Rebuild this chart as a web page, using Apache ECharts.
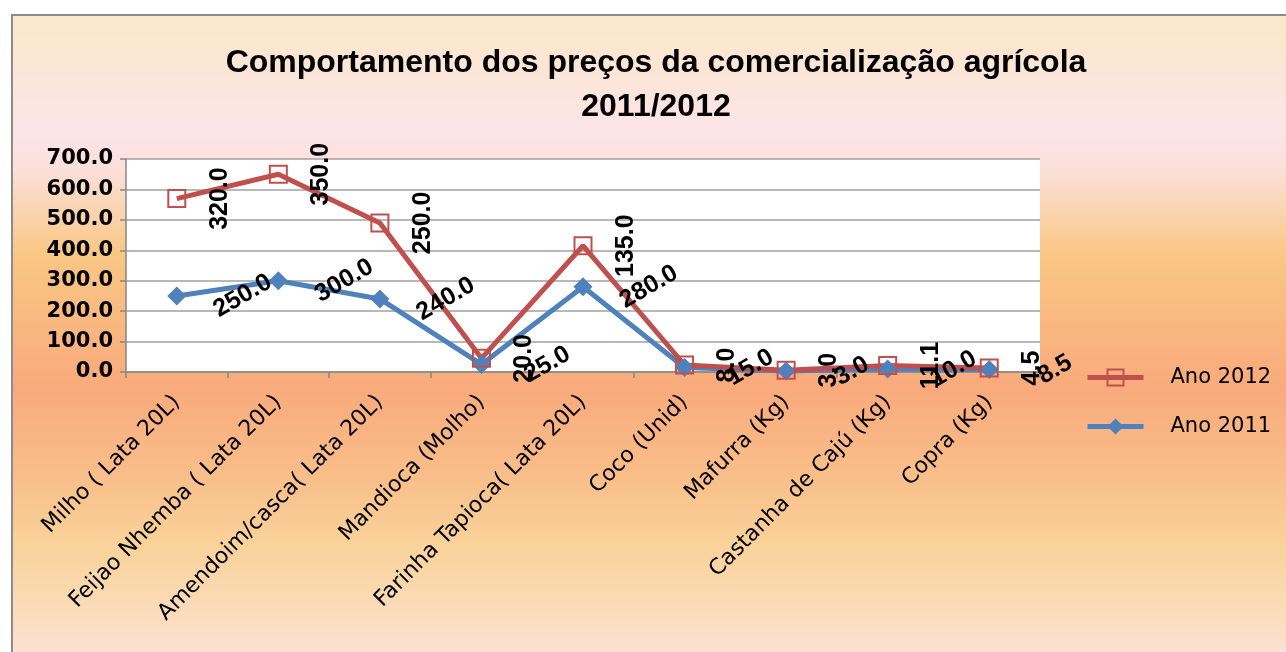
<!DOCTYPE html>
<html>
<head>
<meta charset="utf-8">
<script src="https://cdn.jsdelivr.net/npm/echarts@6/dist/echarts.min.js"></script>
<style>
html,body{margin:0;padding:0;background:#fff;}
#chart{width:1286px;height:652px;}
</style>
</head>
<body>
<div id="chart"></div>
<script>
var categories = ['Milho ( Lata 20L)', 'Feijao Nhemba ( Lata 20L)', 'Amendoim/casca( Lata 20L)', 'Mandioca (Molho)', 'Farinha Tapioca( Lata 20L)', 'Coco (Unid)', 'Mafurra (Kg)', 'Castanha de Cajú (Kg)', 'Copra (Kg)'];
var ano2011 = [250, 300, 240, 25, 280, 15, 3, 10, 8.5];
var ano2012 = [320, 350, 250, 20, 135, 8, 3, 11.1, 4.5];
var yTicks = [0, 100, 200, 300, 400, 500, 600, 700];

var RED = '#c0504d', BLUE = '#4f81bd';
var chart = echarts.init(document.getElementById('chart'), null, {renderer: 'canvas'});
var fmt = function (p) { return Number(p.value).toFixed(1); };
var option = {
  animation: false,
  graphic: [{
    type: 'rect', z: -10, silent: true,
    shape: {x: 12, y: 15, width: 1290, height: 650},
    style: {
      fill: {type: 'linear', x: 0, y: 0, x2: 0, y2: 1, colorStops: [
        {offset: 0, color: '#fbe7c8'},
        {offset: 0.18, color: '#fde4e8'},
        {offset: 0.235, color: '#fce0dc'},
        {offset: 0.37, color: '#f9c784'},
        {offset: 0.573, color: '#f9aa7c'},
        {offset: 0.714, color: '#f9bf8b'},
        {offset: 0.81, color: '#f9d299'},
        {offset: 0.92, color: '#fbdcbb'},
        {offset: 1, color: '#fde1dc'}
      ]},
      stroke: '#8c8c8c', lineWidth: 2
    }
  }],
  title: {
    text: 'Comportamento dos preços da comercialização agrícola\n2011/2012',
    left: 656, top: 41, textAlign: 'center', padding: 0,
    textStyle: {fontFamily: 'Liberation Sans', fontWeight: 'bold', fontSize: 32, lineHeight: 44, color: '#000'}
  },
  legend: {
    orient: 'vertical', left: 1080, top: 362,
    itemWidth: 56, itemHeight: 20, itemGap: 28,
    data: ['Ano 2012', 'Ano 2011'],
    lineStyle: {width: 5},
    textStyle: {fontFamily: 'DejaVu Sans', fontSize: 21, color: '#000', padding: [0, 0, 0, 22]}
  },
  grid: {left: 126, right: 246, top: 159, bottom: 280, show: true, backgroundColor: '#fff', borderWidth: 0},
  xAxis: {
    type: 'category', data: categories, boundaryGap: true,
    axisLine: {lineStyle: {color: '#868686', width: 1.5}},
    axisTick: {show: true, length: 6, lineStyle: {color: '#868686', width: 1.5}},
    axisLabel: {rotate: 45, interval: 0, margin: 27, fontFamily: 'DejaVu Sans', fontSize: 22, color: '#000'}
  },
  yAxis: {
    type: 'value', min: yTicks[0], max: yTicks[yTicks.length - 1], interval: 100,
    axisLine: {show: true, lineStyle: {color: '#868686', width: 1.5}},
    axisTick: {show: true, length: 6, lineStyle: {color: '#868686', width: 1.5}},
    splitLine: {lineStyle: {color: '#a0a0a0', width: 1.5}},
    axisLabel: {margin: 13, fontFamily: 'DejaVu Sans', fontWeight: 'bold', fontSize: 21, color: '#000',
      formatter: function (v) { return Number(v).toFixed(1); }}
  },
  series: [{
    name: 'Ano 2011', type: 'line', stack: 'total', data: ano2011,
    symbol: 'diamond', symbolSize: 19,
    itemStyle: {color: BLUE},
    lineStyle: {color: BLUE, width: 5},
    label: {show: true, position: 'inside', offset: [57, 33], rotate: 30, formatter: fmt,
      fontFamily: 'Liberation Sans', fontWeight: 'bold', fontSize: 25, color: '#000', align: 'center', verticalAlign: 'middle'}
  }, {
    name: 'Ano 2012', type: 'line', stack: 'total', data: ano2012,
    symbol: 'rect', symbolSize: 17,
    itemStyle: {color: 'rgba(0,0,0,0)', borderColor: RED, borderWidth: 2},
    lineStyle: {color: RED, width: 5},
    label: {show: true, position: 'inside', offset: [0, 43], rotate: 90, formatter: fmt,
      fontFamily: 'Liberation Sans', fontWeight: 'bold', fontSize: 25, color: '#000', align: 'center', verticalAlign: 'middle'}
  }]
};
chart.setOption(option);
</script>
</body>
</html>
